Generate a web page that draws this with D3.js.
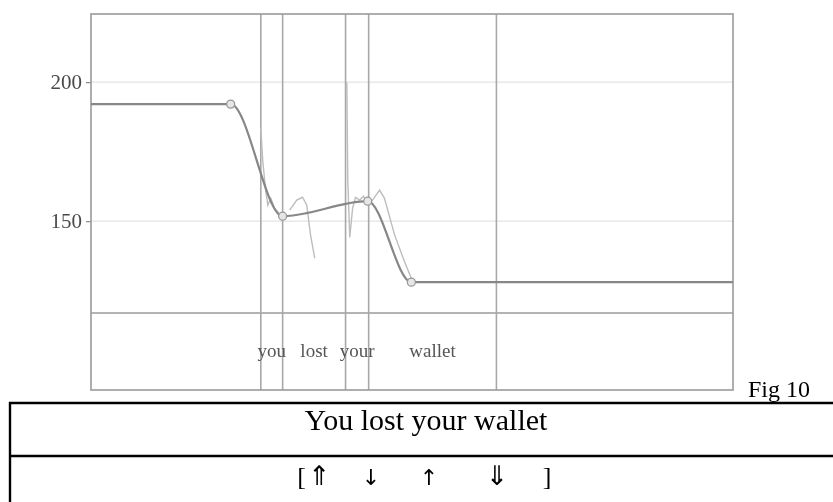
<!DOCTYPE html>
<html><head><meta charset="utf-8">
<script src="https://cdn.jsdelivr.net/npm/d3@7"></script>
<style>body{margin:0;background:#fff}svg{display:block}</style>
</head><body>
<svg id="c" width="833" height="502"></svg>
<script>
// ---- data ----
const boundaries = [0.529, 0.597, 0.793, 0.865, 1.263];   // interval boundaries (s)
const words = ["you", "lost", "your", "wallet"];            // labels between consecutive boundaries
const yTicks = [150, 200];
const styTime = [0, 0.435, 0.597, 0.862, 0.998, 2.0];     // stylized contour (s)
const styHz   = [192.1, 192.1, 151.8, 157.2, 128.1, 128.1];
const markerIdx = [1, 2, 3, 4];
const rawTime = [0.529, 0.535, 0.544, 0.551, 0.560, 0.572, 0.588, 0.600, 0.610,
                 0.619, 0.641, 0.659, 0.672, 0.684, 0.697, 0.750,
                 0.797, 0.798, 0.800, 0.806, 0.815, 0.824, 0.837, 0.849, 0.862, 0.877, 0.899, 0.914, 0.946, 0.977, 0.998];
const rawHz   = [183.5, 171.9, 161.2, 155.8, 158.3, 154.7, 152.5, 151.1, null,
                 154.0, 157.6, 158.6, 155.8, 145.0, 136.7, null,
                 200.0, 187.1, 164.7, 144.2, 154.7, 158.6, 157.6, 159.0, 156.1, 157.6, 161.2, 158.3, 145.0, 135.3, 129.5];
const caption = "Fig 10";
const sentence = "You lost your wallet";
const arrows = ["[", "\u21D1", "\u2193", "\u2191", "\u21D3", "]"];

// ---- drawing ----
(function () {
const svg = d3.select("#c");
const W = 833, H = 502;
const pL = 91, pR = 733, pT = 14, pB = 390, tierTop = 313;
const x = d3.scaleLinear().domain([0, 2]).range([pL, pR]);
const y = d3.scaleLinear().domain([117, 224.5]).range([tierTop, pT]);

const defs = svg.append("defs");
defs.append("filter").attr("id", "soft").append("feGaussianBlur").attr("stdDeviation", 0.45);

const g = svg.append("g").attr("filter", "url(#soft)");

// gridlines
g.selectAll("line.grid").data(yTicks).join("line")
  .attr("x1", pL).attr("x2", pR)
  .attr("y1", d => y(d)).attr("y2", d => y(d))
  .attr("stroke", "#e3e3e3").attr("stroke-width", 1.2);

// axis ticks
const ax = g.append("g").attr("transform", `translate(${pL},0)`)
  .call(d3.axisLeft(y).tickValues(yTicks).tickSize(5).tickPadding(4).tickFormat(d3.format("d")));
ax.select(".domain").remove();
ax.selectAll(".tick line").attr("stroke", "#888").attr("stroke-width", 1.2);
ax.selectAll(".tick text").attr("font-family", "Liberation Serif, serif").attr("font-size", 21)
  .attr("fill", "#4a4a4a");

// tier separator
g.append("line").attr("x1", pL).attr("x2", pR).attr("y1", tierTop).attr("y2", tierTop)
  .attr("stroke", "#9a9a9a").attr("stroke-width", 1.5);

// interval boundaries
g.selectAll("line.bnd").data(boundaries).join("line")
  .attr("x1", d => x(d)).attr("x2", d => x(d)).attr("y1", pT).attr("y2", pB)
  .attr("stroke", "#a8a8a8").attr("stroke-width", 1.6);

// frame
g.append("rect").attr("x", pL).attr("y", pT).attr("width", pR - pL).attr("height", pB - pT)
  .attr("fill", "none").attr("stroke", "#9a9a9a").attr("stroke-width", 1.6);

// words
g.selectAll("text.word").data(words).join("text")
  .attr("x", (d, i) => x((boundaries[i] + boundaries[i + 1]) / 2))
  .attr("y", 357).attr("text-anchor", "middle")
  .attr("font-family", "Liberation Serif, serif").attr("font-size", 19)
  .attr("fill", "#555").text(d => d);

// raw pitch
const raw = rawTime.map((t, i) => ({t, hz: rawHz[i]}));
g.append("path").datum(raw)
  .attr("d", d3.line().defined(d => d.hz != null).x(d => x(d.t)).y(d => y(d.hz)))
  .attr("fill", "none").attr("stroke", "#bdbdbd").attr("stroke-width", 1.4);

// stylized
const sty = styTime.map((t, i) => ({t, hz: styHz[i]}));
g.append("path").datum(sty)
  .attr("d", d3.line().curve(d3.curveMonotoneX).x(d => x(d.t)).y(d => y(d.hz)))
  .attr("fill", "none").attr("stroke", "#878787").attr("stroke-width", 2.2);
g.selectAll("circle.mk").data(markerIdx.map(i => sty[i])).join("circle")
  .attr("cx", d => x(d.t)).attr("cy", d => y(d.hz)).attr("r", 4)
  .attr("fill", "#e6e6e6").attr("stroke", "#999").attr("stroke-width", 1.3);

// caption
svg.append("text").attr("x", 748).attr("y", 397)
  .attr("font-family", "Liberation Serif, serif").attr("font-size", 24).attr("fill", "#000").text(caption);

// table
const tb = svg.append("g").attr("stroke", "#000").attr("stroke-width", 2.4);
tb.append("line").attr("x1", 9).attr("x2", W).attr("y1", 403).attr("y2", 403);
tb.append("line").attr("x1", 9).attr("x2", W).attr("y1", 456).attr("y2", 456);
tb.append("line").attr("x1", 10).attr("x2", 10).attr("y1", 402).attr("y2", H);

svg.append("text").attr("x", 426).attr("y", 430).attr("text-anchor", "middle")
  .attr("font-family", "Liberation Serif, serif").attr("font-size", 30).attr("fill", "#000").text(sentence);

const arrowX = [306, 308, 371, 429, 497, 547];
const arrowAnchor = ["end", "start", "middle", "middle", "middle", "middle"];
const arrowSize = [26, 27, 22, 22, 27, 26];
svg.selectAll("text.arr").data(arrows).join("text")
  .attr("x", (d, i) => arrowX[i]).attr("y", 485).attr("text-anchor", (d, i) => arrowAnchor[i])
  .attr("font-family", (d, i) => (i === 0 || i === 5) ? "Liberation Serif, serif" : "DejaVu Sans, sans-serif")
  .attr("font-size", (d, i) => arrowSize[i])
  .attr("fill", "#000").text(d => d);
})();
</script>
</body></html>
